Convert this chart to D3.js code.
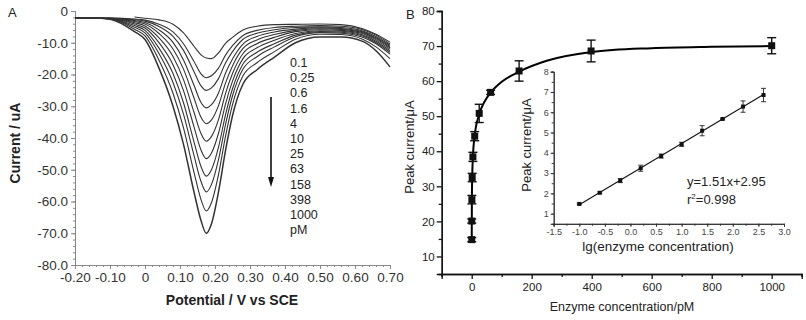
<!DOCTYPE html>
<html>
<head>
<meta charset="utf-8">
<script src="https://cdn.jsdelivr.net/npm/d3@7"></script>
<style>
  body { margin: 0; background: #fff; }
  svg { font-family: Arial, "Liberation Sans", sans-serif; }
</style>
</head>
<body>
<div id="chart"></div>
<script>
// ---- Panel A: square wave voltammograms (potential grid shared by every curve)
var potential = [-0.20, -0.15, -0.10, -0.03, 0.00, 0.04, 0.08, 0.11, 0.14, 0.16, 0.175, 0.19, 0.21, 0.23, 0.25, 0.28, 0.32, 0.37, 0.43, 0.50, 0.56, 0.62, 0.66, 0.70];

var i_0_1  = [null, null, null, -1.9, -2.3, -2.8, -4.2, -6.9, -11.1, -13.8, -14.8, -15.0, -13.2, -10.2, -8.3, -6.0, -4.8, -4.3, -4.2, -4.1, -4.3, -5.5, -7.3, -9.8];
var i_0_25 = [-2.2, -2.2, -2.23, -2.56, -2.87, -4.15, -6.6, -10.3, -15.9, -19.8, -21.0, -20.4, -18.0, -13.9, -10.9, -7.7, -6.1, -5.2, -4.8, -4.6, -4.8, -5.8, -7.6, -10.4];
var i_0_6  = [-2.2, -2.2, -2.25, -2.74, -3.18, -4.89, -8.0, -12.4, -19.1, -23.6, -25.0, -24.2, -21.3, -16.4, -12.8, -8.9, -7.0, -5.9, -5.2, -5.0, -5.2, -6.2, -8.0, -10.8];
var i_1_6  = [-2.2, -2.2, -2.28, -3.01, -3.62, -5.95, -9.9, -15.4, -23.4, -28.8, -30.5, -29.5, -25.8, -19.6, -15.1, -10.4, -8.0, -6.6, -5.7, -5.3, -5.5, -6.5, -8.4, -11.2];
var i_4    = [-2.2, -2.2, -2.31, -3.32, -4.1, -7.08, -11.95, -18.3, -27.4, -33.5, -35.5, -34.3, -29.8, -22.7, -17.3, -11.8, -9.1, -7.4, -6.1, -5.6, -5.8, -6.8, -8.7, -11.6];
var i_10   = [-2.2, -2.2, -2.34, -3.69, -4.69, -8.45, -14.3, -21.6, -31.9, -38.6, -41.0, -39.5, -34.2, -26.0, -19.7, -13.4, -10.3, -8.3, -6.5, -5.9, -6.1, -7.1, -9.1, -12.0];
var i_25   = [-2.2, -2.2, -2.38, -4.12, -5.36, -9.97, -16.9, -25.1, -36.5, -43.8, -46.5, -44.7, -38.5, -29.3, -22.1, -15.0, -11.6, -9.2, -7.1, -6.2, -6.4, -7.5, -9.5, -12.5];
var i_63   = [-2.2, -2.2, -2.43, -4.6, -6.1, -11.7, -19.7, -28.9, -41.2, -49.0, -52.0, -50.0, -42.9, -32.7, -24.5, -16.7, -13.0, -10.3, -7.6, -6.5, -6.7, -7.8, -9.9, -13.0];
var i_158  = [-2.2, -2.2, -2.48, -5.12, -6.89, -13.4, -22.5, -32.5, -45.5, -53.7, -57.0, -54.6, -46.8, -35.8, -26.7, -18.3, -14.4, -11.3, -8.1, -6.8, -7.0, -8.2, -10.3, -13.6];
var i_398  = [-2.2, -2.2, -2.53, -5.73, -7.84, -15.5, -25.9, -36.8, -50.8, -59.4, -63.0, -60.3, -51.5, -39.5, -29.5, -20.4, -16.3, -12.8, -8.9, -7.3, -7.4, -8.8, -11.3, -15.0];
var i_1000 = [-2.2, -2.2, -2.6, -6.5, -9.0, -18.0, -30.0, -42.0, -57.0, -66.0, -70.0, -67.0, -57.0, -44.0, -33.0, -23.0, -18.5, -14.5, -10.0, -8.2, -8.2, -9.5, -12.5, -17.6];

var curvesA = [i_0_1, i_0_25, i_0_6, i_1_6, i_4, i_10, i_25, i_63, i_158, i_398, i_1000];
var legendA = ["0.1", "0.25", "0.6", "1.6", "4", "10", "25", "63", "158", "398", "1000", "pM"];

var xTicksA = [-0.2, -0.1, 0, 0.1, 0.2, 0.3, 0.4, 0.5, 0.6, 0.7];
var yTicksA = [0, -10, -20, -30, -40, -50, -60, -70, -80];

// ---- Panel B: peak current vs enzyme concentration
var conc    = [0.1, 0.25, 0.6, 1.6, 4, 10, 25, 63, 158, 398, 1000];
var peak    = [14.8, 20.1, 26.2, 32.5, 38.4, 44.3, 50.8, 56.8, 62.9, 68.6, 70.1];
var peakErr = [0.6, 0.6, 1.2, 1.2, 1.3, 1.3, 2.6, 0.6, 2.9, 3.1, 2.3];

var fitConc = [0.1, 0.6, 1.6, 4, 10, 25, 45, 63, 100, 158, 250, 400, 600, 800, 1000];
var fitPeak = [14.8, 26.0, 32.3, 38.3, 44.5, 50.5, 54.5, 56.7, 59.8, 62.7, 65.8, 68.3, 69.4, 69.8, 70.0];

var xTicksB = [0, 200, 400, 600, 800, 1000];
var yTicksB = [10, 20, 30, 40, 50, 60, 70, 80];

// inset: calibration on log scale
var lgConc = [-1.0, -0.6, -0.2, 0.2, 0.6, 1.0, 1.4, 1.8, 2.2, 2.6];
var lgPeak = [1.48, 2.03, 2.63, 3.24, 3.84, 4.42, 5.09, 5.67, 6.28, 6.85];
var lgErr  = [0.04, 0.04, 0.1, 0.15, 0.1, 0.1, 0.25, 0.04, 0.28, 0.33];
var lgFitX = [-1.0, 2.6];
var lgFitY = [1.44, 6.88];

var xTicksI = [-1.5, -1.0, -0.5, 0.0, 0.5, 1.0, 1.5, 2.0, 2.5, 3.0];
var yTicksI = [1, 2, 3, 4, 5, 6, 7, 8];

var svg = d3.select("#chart")
  .append("svg")
    .attr("width", 806)
    .attr("height", 320);

function styleAxis(g, color, textColor, size, width) {
  g.attr("font-family", null).attr("font-size", null);
  g.selectAll(".domain").attr("stroke", color).attr("stroke-width", width);
  g.selectAll(".tick line").attr("stroke", color).attr("stroke-width", width);
  g.selectAll("text").attr("fill", textColor).style("font-size", size + "px");
}

// ================= Panel A =================
var xA = d3.scaleLinear().domain([-0.2, 0.7]).range([75, 390]);
var yA = d3.scaleLinear().domain([-80, 0]).range([265, 11]);

var fmtXA = function (d) { return Math.abs(d) < 1e-9 ? "0" : d.toFixed(2); };
var fmtYA = function (d) { return d === 0 ? "0" : d.toFixed(1); };

// minor ticks
svg.append("g")
    .attr("transform", "translate(0,265)")
    .call(d3.axisBottom(xA).tickValues(d3.range(0, 46).map(function (i) { return -0.2 + i * 0.02; })).tickSize(2).tickFormat(""))
    .call(styleAxis, "#888", "#333", 13.5, 1);
svg.append("g")
    .attr("transform", "translate(75,0)")
    .call(d3.axisLeft(yA).tickValues(d3.range(-80, 1, 2)).tickSize(2).tickFormat(""))
    .call(styleAxis, "#888", "#333", 13.5, 1);

svg.append("g")
    .attr("transform", "translate(0,265)")
    .call(d3.axisBottom(xA).tickValues(xTicksA).tickSize(4).tickPadding(3).tickFormat(fmtXA))
    .call(styleAxis, "#888", "#333", 13.5, 1);
svg.append("g")
    .attr("transform", "translate(75,0)")
    .call(d3.axisLeft(yA).tickValues(yTicksA).tickSize(4).tickPadding(3).tickFormat(fmtYA))
    .call(styleAxis, "#888", "#333", 13.5, 1);

var lineA = d3.line()
    .defined(function (d) { return d[1] != null; })
    .x(function (d) { return xA(d[0]); })
    .y(function (d) { return yA(d[1]); })
    .curve(d3.curveMonotoneX);

svg.append("g")
  .selectAll("path")
  .data(curvesA)
  .enter().append("path")
    .attr("d", function (c) { return lineA(potential.map(function (p, i) { return [p, c[i]]; })); })
    .attr("fill", "none")
    .attr("stroke", "#333")
    .attr("stroke-width", function (c, i) { return i === curvesA.length - 1 ? 1.5 : 1.1; });

// concentration list and arrow
svg.append("g")
  .selectAll("text")
  .data(legendA)
  .enter().append("text")
    .attr("x", 290)
    .attr("y", function (d, i) { return 67 + i * 15.2; })
    .attr("fill", "#222")
    .style("font-size", "12.5px")
    .text(function (d) { return d; });

svg.append("line")
    .attr("x1", 271).attr("x2", 271)
    .attr("y1", 97).attr("y2", 178)
    .attr("stroke", "#111").attr("stroke-width", 1.6);
svg.append("path")
    .attr("d", "M268,177 L274,177 L271,187 Z")
    .attr("fill", "#111");

svg.append("text")
    .attr("x", 8).attr("y", 17)
    .style("font-size", "13px").attr("fill", "#222")
    .text("A");

svg.append("text")
    .attr("transform", "translate(20,143) rotate(-90)")
    .attr("text-anchor", "middle")
    .style("font-size", "14px").style("font-weight", "bold").attr("fill", "#222")
    .text("Current / uA");

svg.append("text")
    .attr("x", 232).attr("y", 305)
    .attr("text-anchor", "middle")
    .style("font-size", "14px").style("font-weight", "bold").attr("fill", "#222")
    .text("Potential / V vs SCE");

// ================= Panel B =================
var xB = d3.scaleLinear().domain([-100, 1100]).range([441.7, 801.7]);
var yB = d3.scaleLinear().domain([5, 80]).range([274, 11]);

svg.append("g")
    .attr("transform", "translate(0,274)")
    .call(d3.axisBottom(xB).tickValues([-100, 100, 300, 500, 700, 900, 1100]).tickSize(3).tickFormat(""))
    .call(styleAxis, "#111", "#222", 11.5, 1.3);
svg.append("g")
    .attr("transform", "translate(441.7,0)")
    .call(d3.axisLeft(yB).tickValues([15, 25, 35, 45, 55, 65, 75]).tickSize(3).tickFormat(""))
    .call(styleAxis, "#111", "#222", 11.5, 1.3);
svg.append("g")
    .attr("transform", "translate(0,274)")
    .call(d3.axisBottom(xB).tickValues(xTicksB).tickSize(5).tickPadding(4).tickFormat(d3.format("d")))
    .call(styleAxis, "#111", "#222", 11.5, 1.3);
svg.append("g")
    .attr("transform", "translate(441.7,0)")
    .call(d3.axisLeft(yB).tickValues(yTicksB).tickSize(5).tickPadding(2).tickFormat(d3.format("d")))
    .call(styleAxis, "#111", "#222", 11.5, 1.3);

svg.append("path")
    .datum(fitConc.map(function (c, i) { return [c, fitPeak[i]]; }))
    .attr("d", d3.line()
      .x(function (d) { return xB(d[0]); })
      .y(function (d) { return yB(d[1]); })
      .curve(d3.curveMonotoneX))
    .attr("fill", "none")
    .attr("stroke", "#000")
    .attr("stroke-width", 2);

var ptsB = conc.map(function (c, i) { return { c: c, p: peak[i], e: peakErr[i] }; });
var errB = svg.append("g").attr("stroke", "#111").attr("stroke-width", 1.4);
errB.selectAll(".bar").data(ptsB).enter().append("line")
    .attr("x1", function (d) { return xB(d.c); }).attr("x2", function (d) { return xB(d.c); })
    .attr("y1", function (d) { return yB(d.p - d.e); }).attr("y2", function (d) { return yB(d.p + d.e); });
errB.selectAll(".capT").data(ptsB).enter().append("line")
    .attr("x1", function (d) { return xB(d.c) - 4.5; }).attr("x2", function (d) { return xB(d.c) + 4.5; })
    .attr("y1", function (d) { return yB(d.p + d.e); }).attr("y2", function (d) { return yB(d.p + d.e); });
errB.selectAll(".capB").data(ptsB).enter().append("line")
    .attr("x1", function (d) { return xB(d.c) - 4.5; }).attr("x2", function (d) { return xB(d.c) + 4.5; })
    .attr("y1", function (d) { return yB(d.p - d.e); }).attr("y2", function (d) { return yB(d.p - d.e); });

svg.append("g").selectAll("rect").data(ptsB).enter().append("rect")
    .attr("x", function (d) { return xB(d.c) - 3.5; })
    .attr("y", function (d) { return yB(d.p) - 3.5; })
    .attr("width", 7).attr("height", 7)
    .attr("fill", "#111");

svg.append("text")
    .attr("x", 406).attr("y", 19)
    .style("font-size", "13px").attr("fill", "#222")
    .text("B");

svg.append("text")
    .attr("transform", "translate(414,147) rotate(-90)")
    .attr("text-anchor", "middle")
    .style("font-size", "13px").attr("fill", "#222")
    .text("Peak current/\u03bcA");

svg.append("text")
    .attr("x", 622).attr("y", 311)
    .attr("text-anchor", "middle")
    .style("font-size", "12.5px").attr("fill", "#222")
    .text("Enzyme concentration/pM");

// ---- inset
var xI = d3.scaleLinear().domain([-1.5, 3.0]).range([553.7, 784]);
var yI = d3.scaleLinear().domain([0.5, 8]).range([223.8, 71.7]);

svg.append("g")
    .attr("transform", "translate(0,223.8)")
    .call(d3.axisBottom(xI).tickValues(d3.range(0, 19).map(function (i) { return -1.5 + i * 0.25; })).tickSize(2).tickFormat(""))
    .call(styleAxis, "#333", "#444", 9, 1);
svg.append("g")
    .attr("transform", "translate(553.7,0)")
    .call(d3.axisLeft(yI).tickValues(d3.range(0, 16).map(function (i) { return 0.5 + i * 0.5; })).tickSize(2).tickFormat(""))
    .call(styleAxis, "#333", "#444", 9, 1);
svg.append("g")
    .attr("transform", "translate(0,223.8)")
    .call(d3.axisBottom(xI).tickValues(xTicksI).tickSize(3).tickPadding(2).tickFormat(function (d) { return d.toFixed(1); }))
    .call(styleAxis, "#333", "#444", 9, 1);
svg.append("g")
    .attr("transform", "translate(553.7,0)")
    .call(d3.axisLeft(yI).tickValues(yTicksI).tickSize(3).tickPadding(2).tickFormat(function (d) { return String(d); }))
    .call(styleAxis, "#333", "#444", 9, 1);

svg.append("line")
    .attr("x1", xI(lgFitX[0])).attr("y1", yI(lgFitY[0]))
    .attr("x2", xI(lgFitX[1])).attr("y2", yI(lgFitY[1]))
    .attr("stroke", "#111").attr("stroke-width", 1.1);

var ptsI = lgConc.map(function (c, i) { return { c: c, p: lgPeak[i], e: lgErr[i] }; });
var errI = svg.append("g").attr("stroke", "#222").attr("stroke-width", 0.9);
errI.selectAll(".bar").data(ptsI).enter().append("line")
    .attr("x1", function (d) { return xI(d.c); }).attr("x2", function (d) { return xI(d.c); })
    .attr("y1", function (d) { return yI(d.p - d.e); }).attr("y2", function (d) { return yI(d.p + d.e); });
errI.selectAll(".capT").data(ptsI).enter().append("line")
    .attr("x1", function (d) { return xI(d.c) - 2.5; }).attr("x2", function (d) { return xI(d.c) + 2.5; })
    .attr("y1", function (d) { return yI(d.p + d.e); }).attr("y2", function (d) { return yI(d.p + d.e); });
errI.selectAll(".capB").data(ptsI).enter().append("line")
    .attr("x1", function (d) { return xI(d.c) - 2.5; }).attr("x2", function (d) { return xI(d.c) + 2.5; })
    .attr("y1", function (d) { return yI(d.p - d.e); }).attr("y2", function (d) { return yI(d.p - d.e); });

svg.append("g").selectAll("rect").data(ptsI).enter().append("rect")
    .attr("x", function (d) { return xI(d.c) - 2; })
    .attr("y", function (d) { return yI(d.p) - 2; })
    .attr("width", 4).attr("height", 4)
    .attr("fill", "#111");

svg.append("text")
    .attr("transform", "translate(531,145) rotate(-90)")
    .attr("text-anchor", "middle")
    .style("font-size", "13px").attr("fill", "#222")
    .text("Peak current/\u03bcA");

svg.append("text")
    .attr("x", 658).attr("y", 251)
    .attr("text-anchor", "middle")
    .style("font-size", "13.5px").attr("fill", "#222")
    .text("lg(enzyme concentration)");

svg.append("text")
    .attr("x", 687).attr("y", 186)
    .style("font-size", "13px").attr("fill", "#222")
    .text("y=1.51x+2.95");

var r2 = svg.append("text")
    .attr("x", 687).attr("y", 204)
    .style("font-size", "13px").attr("fill", "#222");
r2.append("tspan").text("r");
r2.append("tspan").attr("dy", -5).style("font-size", "8px").text("2");
r2.append("tspan").attr("dy", 5).text("=0.998");
</script>
</body>
</html>
